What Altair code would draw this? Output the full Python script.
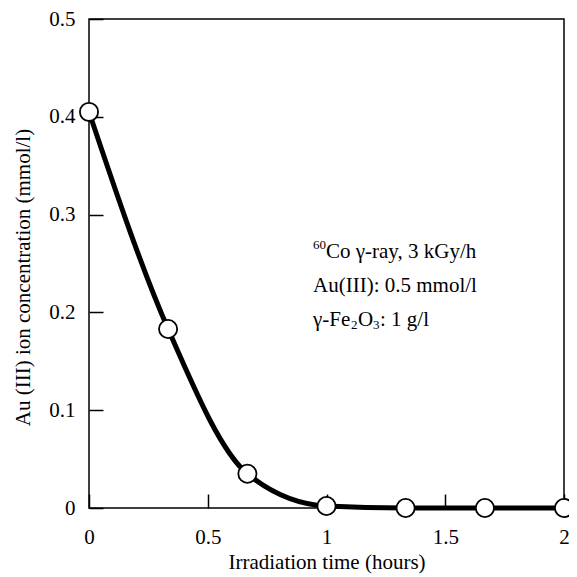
import altair as alt
import pandas as pd

# ---- data ----
time_h = [0.0, 0.333, 0.667, 1.0, 1.333, 1.667, 2.0]
au_conc = [0.405, 0.183, 0.035, 0.002, 0.0, 0.0, 0.0]
x_ticks = [0, 0.5, 1, 1.5, 2]
y_ticks = [0, 0.1, 0.2, 0.3, 0.4, 0.5]
x_title = "Irradiation time (hours)"
y_title = "Au (III) ion concentration (mmol/l)"
# annotation pieces (text, font size, x offset px, y offset px) -- superscripts/subscripts split out
note_pieces = [
    ("60", 13, 0, -7),
    ("Co γ-ray, 3 kGy/h", 21, 13, 0),
    ("Au(III): 0.5 mmol/l", 21, 0, 34),
    ("γ-Fe", 21, 0, 68),
    ("2", 13, 38, 73),
    ("O", 21, 45, 68),
    ("3", 13, 60, 73),
    (" : 1 g/l", 21, 67, 68),
]

df = pd.DataFrame({"t": time_h, "c": au_conc})

FONT = "Liberation Serif"
FS = 21
W, H = 475, 489

xscale = alt.Scale(domain=[0, 2], nice=False, zero=False)
yscale = alt.Scale(domain=[0, 0.5], nice=False)

line = alt.Chart(df).mark_line(
    color="black", strokeWidth=5, interpolate="monotone"
).encode(
    x=alt.X("t:Q", scale=xscale, axis=alt.Axis(
        orient="bottom", values=x_ticks, format="~g", ticks=False, domain=False,
        grid=False, labelFont=FONT, labelFontSize=FS, labelColor="black",
        labelPadding=18, labelFlush=False, title=x_title, titleFont=FONT,
        titleFontSize=FS, titleFontWeight="normal", titleColor="black",
        titleY=54, titleBaseline="middle")),
    y=alt.Y("c:Q", scale=yscale, axis=alt.Axis(
        orient="left", values=y_ticks, format="~g", ticks=False, domain=False,
        grid=False, labelFont=FONT, labelFontSize=FS, labelColor="black",
        labelPadding=14, labelFlush=False, labelBaseline="middle",
        title=y_title, titleFont=FONT, titleFontSize=FS,
        titleFontWeight="normal", titleColor="black", titleX=-66, titleY=258,
        titleAngle=270, titleBaseline="middle", titleAlign="center")),
)

pts = alt.Chart(df).mark_circle(
    fill="white", stroke="black", strokeWidth=1.8, size=330, opacity=1
).encode(
    x=alt.X("t:Q", scale=xscale, axis=alt.Axis(
        orient="top", offset=-H, values=x_ticks, labels=False, ticks=True,
        tickSize=14, tickWidth=1.5, tickColor="black", domain=False,
        grid=False, title=None)),
    y=alt.Y("c:Q", scale=yscale, axis=alt.Axis(
        orient="right", offset=-W, values=y_ticks, labels=False, ticks=True,
        tickSize=14, tickWidth=1.5, tickColor="black", domain=False,
        grid=False, title=None)),
)

NX, NY = 224, 233
notes = []
for txt, fs, dx, dy in note_pieces:
    notes.append(
        alt.Chart(pd.DataFrame({"k": [0]})).mark_text(
            align="left", baseline="middle", font=FONT, fontSize=fs,
            color="black"
        ).encode(x=alt.value(NX + dx), y=alt.value(NY + dy), text=alt.value(txt))
    )

chart = alt.layer(line, pts, *notes).resolve_axis(
    x="independent", y="independent"
).properties(
    width=W, height=H,
    padding={"left": 81, "top": 11, "right": 5, "bottom": 66},
    autosize=alt.AutoSizeParams(type="none"),
).configure_view(stroke="black", strokeWidth=1.5)

chart.save("out.html", embed_options={"renderer": "svg", "actions": False})
